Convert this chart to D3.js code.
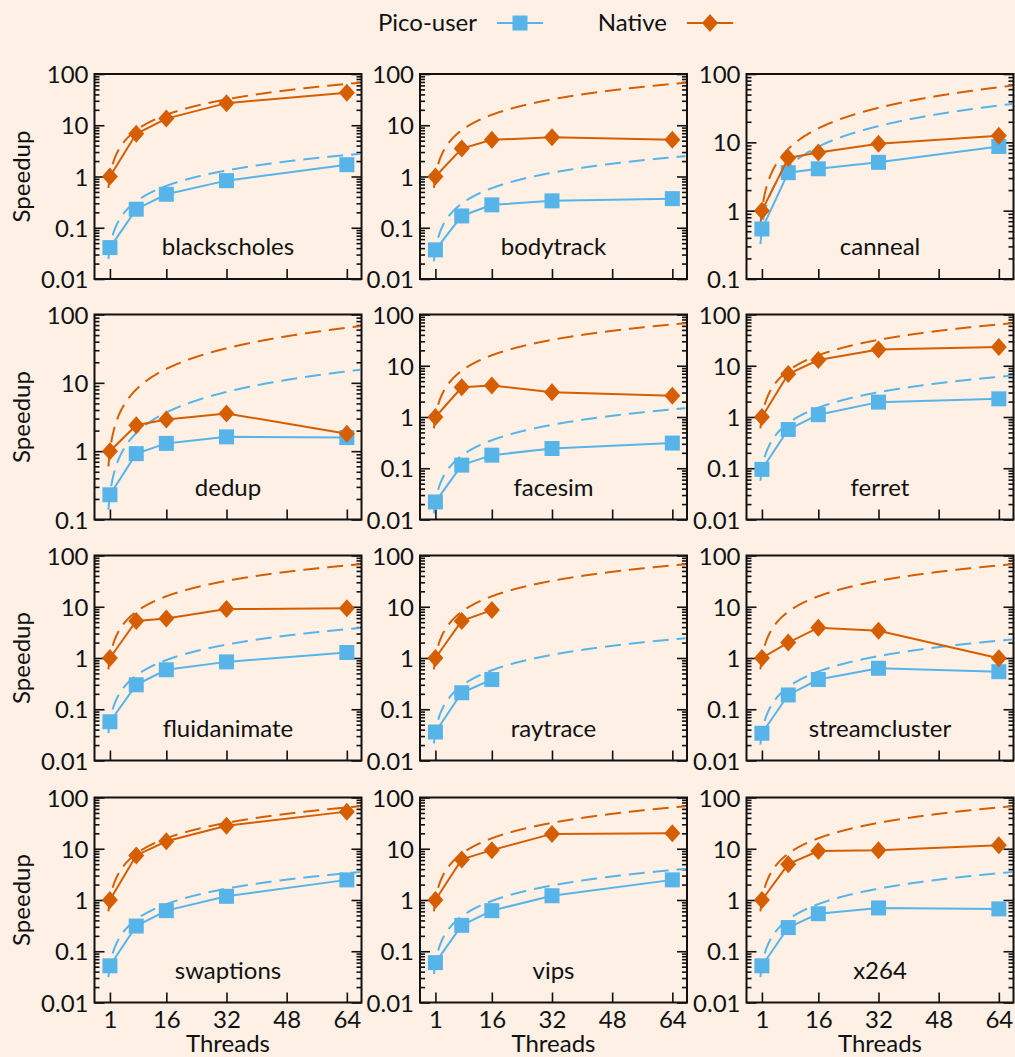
<!DOCTYPE html>
<html>
<head>
<meta charset="utf-8">
<script src="https://cdn.jsdelivr.net/npm/d3@7"></script>
<style>
  html, body { margin: 0; padding: 0; background: #fef0e5; }
  svg { display: block; }
  text { font-family: Lato, "Open Sans", sans-serif; fill: #111; }
</style>
</head>
<body>
<svg id="chart" width="1015" height="1057"></svg>
<script>
// PARSEC benchmarks, speedup vs. thread count (log scale)
const benchmarks = [
  "blackscholes", "bodytrack", "canneal",
  "dedup", "facesim", "ferret",
  "fluidanimate", "raytrace", "streamcluster",
  "swaptions", "vips", "x264"
];
const threads = [1, 8, 16, 32, 64];

// Pico-user speedup per benchmark, one value per thread count
const picoUser = [
  [0.041, 0.23, 0.45, 0.83, 1.7],
  [0.037, 0.17, 0.28, 0.335, 0.37],
  [0.54, 3.6, 4.1, 5.1, 8.7],
  [0.23, 0.92, 1.3, 1.62, 1.58],
  [0.022, 0.115, 0.18, 0.243, 0.31],
  [0.095, 0.57, 1.11, 1.95, 2.26],
  [0.057, 0.30, 0.59, 0.84, 1.28],
  [0.036, 0.21, 0.38],
  [0.034, 0.19, 0.38, 0.63, 0.54],
  [0.052, 0.31, 0.62, 1.18, 2.47],
  [0.06, 0.32, 0.62, 1.21, 2.47],
  [0.052, 0.29, 0.54, 0.70, 0.67]
];

// Native speedup per benchmark
const native = [
  [1.0, 6.8, 13.5, 27, 43],
  [1.0, 3.5, 5.2, 5.8, 5.2],
  [1.0, 5.9, 7.1, 9.5, 12.5],
  [1.0, 2.4, 2.9, 3.56, 1.8],
  [1.0, 3.8, 4.1, 3.05, 2.6],
  [1.0, 6.9, 12.9, 20.8, 23.3],
  [1.0, 5.3, 5.9, 9.0, 9.3],
  [1.0, 5.3, 8.6],
  [1.0, 2.0, 3.9, 3.4, 0.99],
  [1.0, 7.4, 14, 28, 53],
  [1.0, 6.2, 9.4, 19.5, 20],
  [1.0, 5.0, 9.0, 9.4, 11.7]
];

// Lower bound of each panel's y axis
const yFloor = [0.01, 0.01, 0.1, 0.1, 0.01, 0.01, 0.01, 0.01, 0.01, 0.01, 0.01, 0.01];

const xTickValues = [1, 16, 32, 48, 64];
const yTickValues = [0.01, 0.1, 1, 10, 100];
const yTickLabels = ["0.01", "0.1", "1", "10", "100"];
const seriesNames = ["Pico-user", "Native"];
const seriesColors = ["#56b4e9", "#d55e00"];

// Panel grid geometry
const colLeft = [94.5, 420, 746.5];
const rowTop = [74, 314.5, 555.5, 797.5];
const panelW = 267, panelH = 205;
const xDomain = [-3.1, 67.9];
const idealRange = [0.6, 67.5];
const fontSize = 24;

const svg = d3.select("#chart");
svg.append("rect").attr("width", 1015).attr("height", 1057).attr("fill", "#fef0e5");

const defs = svg.append("defs");

function markerPath(kind, cx, cy) {
  if (kind === 0) {
    const h = 7.5;
    return `M${cx - h},${cy - h}H${cx + h}V${cy + h}H${cx - h}Z`;
  }
  const w = 8, h = 9;
  return `M${cx},${cy - h}L${cx + w},${cy}L${cx},${cy + h}L${cx - w},${cy}Z`;
}

benchmarks.forEach((name, i) => {
  const r = Math.floor(i / 3), c = i % 3;
  const L = colLeft[c], T = rowTop[r];
  const B = T + panelH, R = L + panelW;

  const x = d3.scaleLinear().domain(xDomain).range([L, R]);
  const y = d3.scaleLog().domain([yFloor[i], 100]).range([B, T]);

  const g = svg.append("g").attr("class", "panel");

  const clipId = "clip" + i;
  defs.append("clipPath").attr("id", clipId)
    .append("rect").attr("x", L).attr("y", T).attr("width", panelW).attr("height", panelH);

  // y ticks: decades with labels, minor ticks in between, mirrored on the right
  const decades = yTickValues.filter(v => v >= yFloor[i] - 1e-12);
  const minor = [];
  decades.slice(0, -1).forEach(d => { for (let k = 2; k <= 9; k++) minor.push(d * k); });

  const labelOf = v => yTickLabels[yTickValues.indexOf(v)];

  const yl = g.append("g").attr("transform", `translate(${L},0)`)
    .call(d3.axisLeft(y).tickValues(decades).tickFormat(labelOf).tickSize(-10).tickPadding(6));
  g.append("g").attr("transform", `translate(${L},0)`)
    .call(d3.axisLeft(y).tickValues(minor).tickFormat("").tickSize(-5));
  g.append("g").attr("transform", `translate(${R},0)`)
    .call(d3.axisRight(y).tickValues(decades).tickFormat("").tickSize(-10));
  g.append("g").attr("transform", `translate(${R},0)`)
    .call(d3.axisRight(y).tickValues(minor).tickFormat("").tickSize(-5));

  g.append("g").attr("transform", `translate(0,${B})`)
    .call(d3.axisBottom(x).tickValues(xTickValues)
      .tickFormat(r === 3 ? d3.format("d") : "").tickSize(-10).tickPadding(8));

  g.selectAll(".domain").remove();
  g.selectAll(".tick line").attr("stroke", "#111").attr("stroke-width", 1.6);
  g.selectAll(".tick text").attr("font-family", "Lato, 'Open Sans', sans-serif")
    .attr("font-size", fontSize).attr("fill", "#111");
  yl.selectAll(".tick text").attr("dy", "0.36em");

  // ideal linear scaling from each series' single-thread speedup
  const idealT = d3.range(idealRange[0], idealRange[1], 0.1).concat([idealRange[1]]);
  [picoUser[i], native[i]].forEach((vals, s) => {
    const base = vals[0];
    g.append("path")
      .datum(idealT)
      .attr("clip-path", `url(#${clipId})`)
      .attr("fill", "none")
      .attr("stroke", seriesColors[s])
      .attr("stroke-width", 2)
      .attr("stroke-dasharray", "16,8")
      .attr("d", d3.line().x(t => x(t)).y(t => y(base * t)));
  });

  // measured speedups
  [picoUser[i], native[i]].forEach((vals, s) => {
    const pts = vals.map((v, j) => [threads[j], v]);
    g.append("path")
      .datum(pts)
      .attr("fill", "none")
      .attr("stroke", seriesColors[s])
      .attr("stroke-width", 2)
      .attr("d", d3.line().x(d => x(d[0])).y(d => y(d[1])));
    g.selectAll(null).data(pts).enter().append("path")
      .attr("fill", seriesColors[s])
      .attr("d", d => markerPath(s, x(d[0]), y(d[1])));
  });

  // frame
  g.append("rect").attr("x", L).attr("y", T).attr("width", panelW).attr("height", panelH)
    .attr("fill", "none").attr("stroke", "#111").attr("stroke-width", 2);

  // benchmark name
  g.append("text").attr("x", L + panelW / 2).attr("y", B - 24)
    .attr("text-anchor", "middle").attr("font-size", fontSize).text(name);

  if (c === 0) {
    g.append("text")
      .attr("transform", `translate(30,${T + panelH / 2}) rotate(-90)`)
      .attr("text-anchor", "middle").attr("font-size", fontSize).text("Speedup");
  }
  if (r === 3) {
    g.append("text").attr("x", L + panelW / 2).attr("y", B + 49)
      .attr("text-anchor", "middle").attr("font-size", fontSize).text("Threads");
  }
});

// legend
const legendTextEnd = [477, 667];
const legendLine = [[497, 543], [687, 733]];
const legendY = 23;
seriesNames.forEach((n, s) => {
  svg.append("text").attr("x", legendTextEnd[s]).attr("y", 31)
    .attr("text-anchor", "end").attr("font-size", fontSize).text(n);
  svg.append("line")
    .attr("x1", legendLine[s][0]).attr("x2", legendLine[s][1])
    .attr("y1", legendY).attr("y2", legendY)
    .attr("stroke", seriesColors[s]).attr("stroke-width", 2);
  svg.append("path").attr("fill", seriesColors[s])
    .attr("d", markerPath(s, (legendLine[s][0] + legendLine[s][1]) / 2, legendY));
});
</script>
</body>
</html>
